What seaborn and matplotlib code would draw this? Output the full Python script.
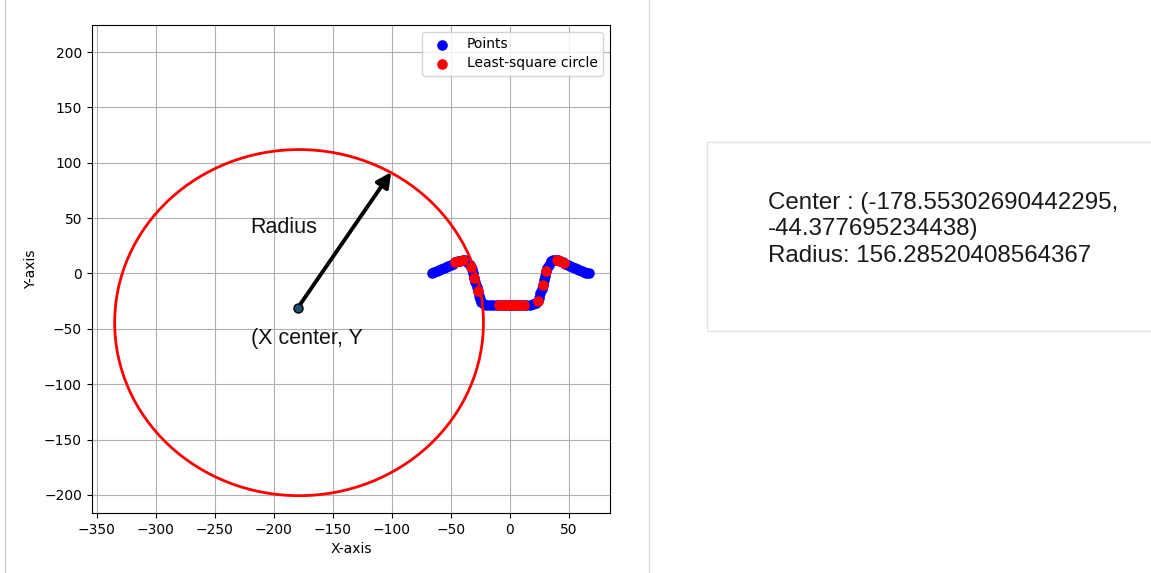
import matplotlib
matplotlib.use("Agg")
import matplotlib.pyplot as plt
import seaborn as sns
import pandas as pd
from matplotlib.patches import Circle, Rectangle
from matplotlib.lines import Line2D

# ---- data ----
points_x = [-66, -64, -62, -60, -58, -56, -54, -52, -50, -48, -46, -44, -42, -40, -38,
            -36, -34, -33, -32, -31, -30, -29, -28, -27, -26, -25, -24, -22, -20,
            -17, -14, -11, -8, -5, -2, 0, 2, 5, 8, 11, 14, 17, 20,
            22, 24, 25, 26, 27, 28, 29, 30, 31, 32, 33, 35, 37, 39, 41,
            43, 45, 47, 49, 51, 53, 55, 57, 59, 61, 63, 65, 67]
points_y = [0, 1, 2, 3, 4, 5, 6, 7, 8, 9, 10, 11, 11.5, 12, 12,
            10.5, 8, 6, 4, 0, -4, -8, -12, -16, -20, -23, -25.5, -27.5, -28.5,
            -28.5, -28.5, -28.5, -28.5, -28.5, -28.5, -28.5, -28.5, -28.5, -28.5, -28.5, -28.5, -28.5, -28,
            -27, -24.5, -22, -18, -14, -10, -6, -2, 2, 5, 8, 11, 12.5, 12.5, 12,
            11, 10, 9, 8, 7, 6, 5, 4, 3, 2, 1, 0.5, 0]

red_x = [-46, -43, -40, -33, -30, -27, -9, -6, -3, 0, 3, 6, 9, 12, 24, 28, 31, 40, 43, 46]
red_y = [10, 11.2, 12, 6, -4, -16, -28.5, -28.5, -28.5, -28.5, -28.5, -28.5, -28.5, -28.5,
         -24.5, -10, 2, 12.2, 11.3, 9.8]

center_x = -178.55302690442295
center_y = -44.377695234438
radius = 156.28520408564367

marker_pt = (-179.6, -31.0)
arrow_tip = (-100.4, 91.6)

x_ticks = [-350, -300, -250, -200, -150, -100, -50, 0, 50]
y_ticks = [-200, -150, -100, -50, 0, 50, 100, 150, 200]

info_lines = ["Center : (-178.55302690442295,",
              "-44.377695234438)",
              "Radius: 156.28520408564367"]

# ---- figure ----
W, H = 1151, 573
fig = plt.figure(figsize=(W / 100, H / 100), dpi=100)
fig.patch.set_facecolor("white")

def fx(px):
    return px / W

def fy(py):
    return 1 - py / H

ax = fig.add_axes([fx(91.7), fy(513), fx(610) - fx(91.7), fy(25) - fy(513)])

pts = pd.DataFrame({"x": points_x, "y": points_y})
red = pd.DataFrame({"x": red_x, "y": red_y})

sns.scatterplot(data=pts, x="x", y="y", color="blue", s=58, linewidth=0,
                label="Points", ax=ax, zorder=3)
sns.scatterplot(data=red, x="x", y="y", color="red", s=58, linewidth=0,
                label="Least-square circle", ax=ax, zorder=4)

ax.add_patch(Circle((center_x, center_y), radius, fill=False, edgecolor="red",
                    linewidth=2.0, zorder=5))

ax.annotate("", xy=arrow_tip, xytext=marker_pt,
            arrowprops=dict(arrowstyle="-|>", color="black", lw=2.8,
                            mutation_scale=22, shrinkA=0, shrinkB=0),
            zorder=6)
ax.plot([marker_pt[0]], [marker_pt[1]], marker="o", markersize=6.5,
        markerfacecolor="#1b4f72", markeredgecolor="black",
        markeredgewidth=1.0, zorder=7)

ax.set_xlim(-354.3, 85)
ax.set_ylim(-216.3, 224.4)
ax.set_xticks(x_ticks)
ax.set_yticks(y_ticks)
ax.grid(True, color="#b0b0b0", linewidth=0.8)
ax.set_axisbelow(True)
ax.set_xlabel("X-axis")
ax.set_ylabel("Y-axis")
ax.legend(loc="upper right", labelspacing=0.35)

# annotation texts
fig.text(fx(250.7), fy(233.3), "Radius", fontsize=15.5, family="Liberation Sans",
         va="baseline", ha="left", color="#111111")
fig.text(fx(250.7), fy(344), "(X center, Y", fontsize=15.5, family="Liberation Sans",
         va="baseline", ha="left", color="#111111")

# right side info box
fig.patches.append(Rectangle((fx(707), fy(331)), fx(1160) - fx(707), fy(142) - fy(331),
                             transform=fig.transFigure, facecolor="white",
                             edgecolor="#e4e4e4", linewidth=1.0, zorder=0))
baselines = [209.3, 235.5, 261.7]
for line, b in zip(info_lines, baselines):
    fig.text(fx(768), fy(b), line, fontsize=17.4, family="Liberation Sans",
             va="baseline", ha="left", color="#1a1a1a")

# separators
fig.add_artist(Line2D([fx(5), fx(5)], [0, 1], transform=fig.transFigure,
                      color="#cfcfcf", linewidth=1.0))
fig.add_artist(Line2D([fx(649), fx(649)], [0, 1], transform=fig.transFigure,
                      color="#dcdcdc", linewidth=1.0))

fig.savefig("out.png", dpi=100)
